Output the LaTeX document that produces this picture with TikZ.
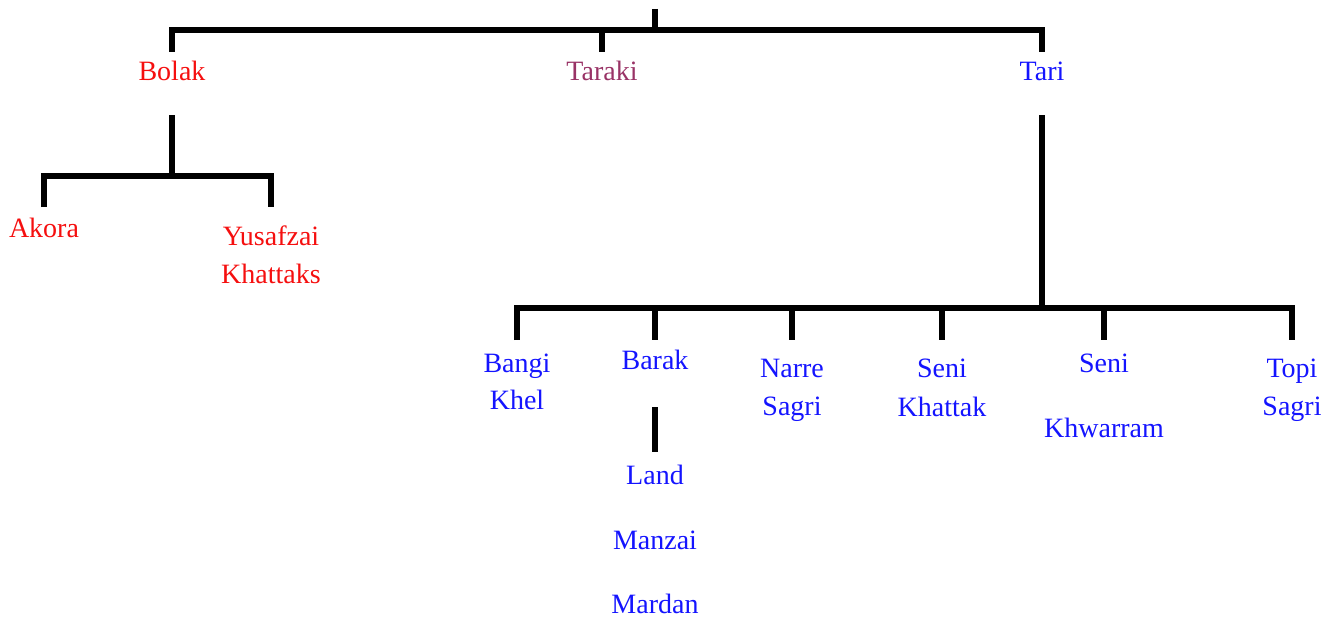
\documentclass[tikz,border=0pt]{standalone}
\usepackage{fontspec}
\setmainfont{Liberation Serif}
\newfontfamily\lblfont{Liberation Serif}
\definecolor{tred}{RGB}{245,15,15}
\definecolor{tpurple}{RGB}{153,51,102}
\definecolor{tblue}{RGB}{20,20,255}
\begin{document}
\begin{tikzpicture}[x=1pt,y=-1pt,
  bar/.style={line width=6pt,line cap=butt,line join=miter,black},
  lbl/.style={anchor=base,inner sep=0pt,font=\lblfont\fontsize{28}{30}\selectfont},
  redl/.style={lbl,text=tred},
  purl/.style={lbl,text=tpurple},
  bluel/.style={lbl,text=tblue}]
\useasboundingbox (0,0) rectangle (1335,618);
% top level
\coordinate (root) at (655,9);
\coordinate (rootj) at (655,30.5);
\coordinate (bolakc) at (172,30.5);
\coordinate (bolakt) at (172,52);
\coordinate (tarakic) at (602,30.5);
\coordinate (tarakit) at (602,52);
\coordinate (taric) at (1042,30.5);
\coordinate (tarit) at (1042,52);
\node[redl] (bolak) at (172,80) {Bolak};
\node[purl] (taraki) at (602,80) {Taraki};
\node[bluel] (tari) at (1042,80) {Tari};
\draw[bar] (root) -- (rootj);
\draw[bar] (bolakt) -- (bolakc) -- (taric) -- (tarit);
\draw[bar] (tarakic) -- (tarakit);
% Bolak branch
\coordinate (bolakd) at (172,115);
\coordinate (bolakj) at (172,176);
\coordinate (akorac) at (44,176);
\coordinate (akorat) at (44,207);
\coordinate (yusc) at (271,176);
\coordinate (yust) at (271,207);
\draw[bar] (bolakd) -- (bolakj);
\draw[bar] (akorat) -- (akorac) -- (yusc) -- (yust);
\node[redl] (akora) at (44,237) {Akora};
\node[redl] (yus1) at (271,245) {Yusafzai};
\node[redl] (yus2) at (271,283) {Khattaks};
% Tari branch
\coordinate (tarid) at (1042,115);
\coordinate (tarij) at (1042,308);
\coordinate (bangic) at (517,308);
\coordinate (bangit) at (517,340);
\coordinate (barakc) at (655,308);
\coordinate (barakt) at (655,340);
\coordinate (narrec) at (792,308);
\coordinate (narret) at (792,340);
\coordinate (senikc) at (942,308);
\coordinate (senikt) at (942,340);
\coordinate (seniwc) at (1104,308);
\coordinate (seniwt) at (1104,340);
\coordinate (topic) at (1292,308);
\coordinate (topit) at (1292,340);
\draw[bar] (tarid) -- (tarij);
\draw[bar] (bangit) -- (bangic) -- (topic) -- (topit);
\draw[bar] (barakc) -- (barakt);
\draw[bar] (narrec) -- (narret);
\draw[bar] (senikc) -- (senikt);
\draw[bar] (seniwc) -- (seniwt);
\node[bluel] (bangi1) at (517,372) {Bangi};
\node[bluel] (bangi2) at (517,409) {Khel};
\node[bluel] (barak) at (655,369) {Barak};
\node[bluel] (narre1) at (792,377) {Narre};
\node[bluel] (narre2) at (792,415) {Sagri};
\node[bluel] (senik1) at (942,377) {Seni};
\node[bluel] (senik2) at (942,416) {Khattak};
\node[bluel] (seniw1) at (1104,372) {Seni};
\node[bluel] (seniw2) at (1104,437) {Khwarram};
\node[bluel] (topi1) at (1292,377) {Topi};
\node[bluel] (topi2) at (1292,415) {Sagri};
% Barak sub
\coordinate (barakd) at (655,407);
\coordinate (barake) at (655,452);
\draw[bar] (barakd) -- (barake);
\node[bluel] (land) at (655,484) {Land};
\node[bluel] (manzai) at (655,549) {Manzai};
\node[bluel] (mardan) at (655,613) {Mardan};
\end{tikzpicture}
\end{document}
